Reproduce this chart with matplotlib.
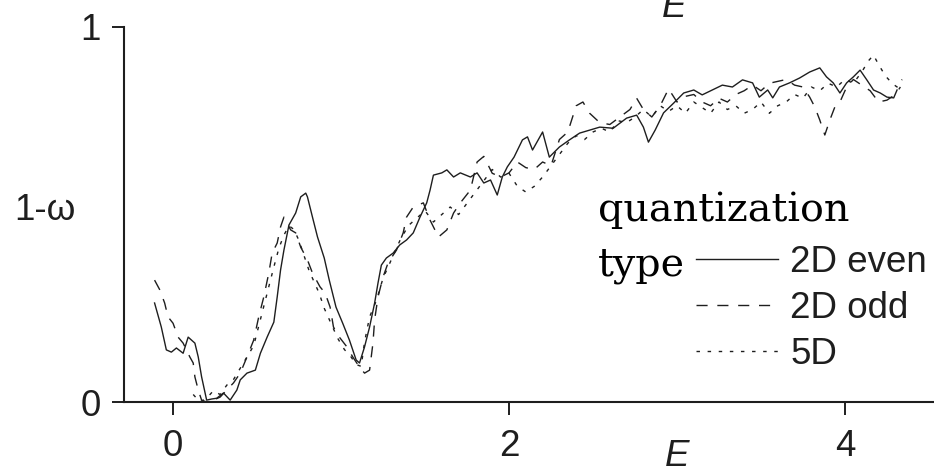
import numpy as np
import matplotlib.pyplot as plt

# energy values and 1-omega
e_even = [-0.11, -0.07, -0.04, -0.01, 0.02, 0.06, 0.09, 0.13, 0.15, 0.17,
          0.20, 0.23, 0.26, 0.30, 0.34, 0.38, 0.40, 0.44, 0.49, 0.52,
          0.56, 0.60, 0.62, 0.64, 0.66, 0.69, 0.73, 0.76, 0.79, 0.80,
          0.83, 0.86, 0.90, 0.93, 0.97, 1.01, 1.05, 1.09, 1.11, 1.14,
          1.17, 1.20, 1.22, 1.24, 1.27, 1.31, 1.35, 1.39, 1.43, 1.47,
          1.51, 1.53, 1.55, 1.60, 1.63, 1.67, 1.71, 1.77, 1.81, 1.85,
          1.89, 1.93, 1.96, 1.99, 2.03, 2.08, 2.11, 2.14, 2.20, 2.24,
          2.30, 2.36, 2.42, 2.48, 2.54, 2.62, 2.70, 2.76, 2.80, 2.83,
          2.87, 2.92, 2.98, 3.04, 3.10, 3.15, 3.21, 3.27, 3.33, 3.39,
          3.45, 3.49, 3.54, 3.57, 3.61, 3.67, 3.73, 3.79, 3.85, 3.89,
          3.93, 3.97, 4.01, 4.05, 4.09, 4.13, 4.17, 4.21, 4.25, 4.29,
          4.31]
w_even = [0.264, 0.20, 0.139, 0.133, 0.144, 0.13, 0.173, 0.157, 0.12, 0.067,
          0.005, 0.008, 0.01, 0.024, 0.005, 0.032, 0.059, 0.077, 0.085, 0.13,
          0.173, 0.213, 0.28, 0.352, 0.405, 0.472, 0.504, 0.547, 0.557, 0.547,
          0.493, 0.44, 0.384, 0.325, 0.253, 0.21, 0.165, 0.112, 0.104, 0.147,
          0.2, 0.264, 0.317, 0.365, 0.384, 0.397, 0.419, 0.432, 0.451, 0.493,
          0.531, 0.565, 0.605, 0.611, 0.619, 0.60, 0.611, 0.60, 0.611, 0.584,
          0.592, 0.552, 0.60, 0.627, 0.653, 0.699, 0.707, 0.672, 0.72, 0.653,
          0.68, 0.699, 0.717, 0.725, 0.733, 0.73, 0.757, 0.765, 0.733, 0.693,
          0.725, 0.771, 0.797, 0.824, 0.832, 0.819, 0.832, 0.845, 0.84, 0.859,
          0.851, 0.813, 0.832, 0.811, 0.84, 0.851, 0.864, 0.88, 0.891, 0.867,
          0.851, 0.824, 0.851, 0.867, 0.885, 0.859, 0.832, 0.824, 0.813, 0.811,
          0.832]

e_odd = [-0.11, -0.08, -0.05, -0.03, 0.00, 0.03, 0.06, 0.10, 0.12, 0.13,
         0.15, 0.17, 0.20, 0.24, 0.28, 0.32, 0.36, 0.40, 0.44, 0.48,
         0.51, 0.54, 0.57, 0.59, 0.62, 0.64, 0.66, 0.70, 0.73, 0.76,
         0.80, 0.83, 0.875, 0.905, 0.935, 0.955, 0.99, 1.035, 1.07, 1.11,
         1.14, 1.17, 1.19, 1.20, 1.22, 1.25, 1.28, 1.33, 1.37, 1.39,
         1.43, 1.49, 1.53, 1.58, 1.63, 1.67, 1.71, 1.77, 1.81, 1.85,
         1.90, 1.95, 2.00, 2.05, 2.10, 2.15, 2.20, 2.25, 2.30, 2.35,
         2.40, 2.44, 2.48, 2.54, 2.60, 2.66, 2.72, 2.76, 2.80, 2.85,
         2.90, 2.95, 3.00, 3.05, 3.10, 3.15, 3.20, 3.25, 3.30, 3.35,
         3.40, 3.45, 3.50, 3.55, 3.60, 3.65, 3.70, 3.75, 3.79, 3.82,
         3.85, 3.88, 3.91, 3.94, 3.97, 4.01, 4.05, 4.10, 4.15, 4.20,
         4.25, 4.30, 4.33]
w_odd = [0.325, 0.30, 0.264, 0.227, 0.21, 0.173, 0.157, 0.12, 0.104, 0.067,
         0.032, 0.005, 0.0, 0.005, 0.013, 0.032, 0.051, 0.077, 0.12, 0.165,
         0.227, 0.28, 0.344, 0.397, 0.424, 0.467, 0.493, 0.459, 0.451, 0.413,
         0.379, 0.344, 0.307, 0.291, 0.253, 0.20, 0.173, 0.147, 0.12, 0.093,
         0.077, 0.085, 0.157, 0.219, 0.28, 0.333, 0.371, 0.405, 0.451, 0.493,
         0.52, 0.531, 0.485, 0.44, 0.459, 0.504, 0.531, 0.565, 0.64, 0.655,
         0.61, 0.60, 0.611, 0.64, 0.625, 0.62, 0.64, 0.63, 0.70, 0.72,
         0.79, 0.80, 0.77, 0.745, 0.74, 0.76, 0.78, 0.81, 0.78, 0.76,
         0.79, 0.835, 0.80, 0.815, 0.82, 0.80, 0.79, 0.81, 0.80, 0.82,
         0.83, 0.845, 0.83, 0.85, 0.855, 0.86, 0.845, 0.84, 0.813, 0.787,
         0.752, 0.712, 0.752, 0.787, 0.80, 0.84, 0.86, 0.845, 0.83, 0.80,
         0.805, 0.82, 0.84]

e_5d = [0.12, 0.16, 0.20, 0.24, 0.28, 0.32, 0.36, 0.40, 0.44, 0.48,
        0.52, 0.56, 0.60, 0.63, 0.66, 0.69, 0.72, 0.75, 0.78, 0.81,
        0.84, 0.87, 0.90, 0.94, 0.98, 1.02, 1.06, 1.09, 1.12, 1.14,
        1.17, 1.21, 1.25, 1.30, 1.35, 1.40, 1.45, 1.50, 1.55, 1.60,
        1.65, 1.70, 1.75, 1.80, 1.85, 1.90, 1.95, 2.00, 2.05, 2.10,
        2.15, 2.20, 2.25, 2.30, 2.35, 2.40, 2.45, 2.50, 2.55, 2.60,
        2.65, 2.70, 2.75, 2.80, 2.85, 2.90, 2.95, 3.00, 3.05, 3.10,
        3.15, 3.20, 3.25, 3.30, 3.35, 3.40, 3.45, 3.50, 3.55, 3.60,
        3.65, 3.70, 3.75, 3.80, 3.85, 3.90, 3.95, 4.00, 4.05, 4.10,
        4.14, 4.17, 4.20, 4.24, 4.28, 4.31, 4.34]
w_5d = [0.02, 0.0, 0.01, 0.03, 0.02, 0.045, 0.06, 0.09, 0.12, 0.15,
        0.22, 0.29, 0.36, 0.41, 0.445, 0.47, 0.46, 0.43, 0.39, 0.35,
        0.32, 0.29, 0.25, 0.21, 0.17, 0.14, 0.12, 0.10, 0.095, 0.16,
        0.227, 0.27, 0.33, 0.38, 0.43, 0.47, 0.49, 0.51, 0.48, 0.50,
        0.52, 0.50, 0.53, 0.56, 0.59, 0.62, 0.60, 0.61, 0.575, 0.56,
        0.575, 0.60, 0.63, 0.66, 0.69, 0.71, 0.70, 0.72, 0.73, 0.72,
        0.75, 0.745, 0.76, 0.78, 0.76, 0.79, 0.775, 0.79, 0.77, 0.80,
        0.785, 0.77, 0.80, 0.78, 0.79, 0.77, 0.78, 0.80, 0.77, 0.79,
        0.80, 0.82, 0.81, 0.84, 0.83, 0.85, 0.84, 0.86, 0.85, 0.88,
        0.91, 0.925, 0.90, 0.87, 0.85, 0.84, 0.86]

labels = ['2D even', '2D odd', '5D']
x_ticks = [0, 2, 4]
y_ticks = [0, 1]

ink = '#1e1e1e'
fs = 26.5

plt.rcParams['font.family'] = ['Liberation Sans', 'DejaVu Sans']

fig = plt.figure(figsize=(9.34, 4.75), dpi=100)
ax = fig.add_axes([124 / 934, 1 - 402 / 475, 810 / 934, 375 / 475])

ax.plot(e_even, w_even, color=ink, lw=1.0, label=labels[0])
ax.plot(e_odd, w_odd, color=ink, lw=1.0, dashes=(8, 7), label=labels[1])
ax.plot(e_5d, w_5d, color=ink, lw=1.0, dashes=(2.5, 5.5), label=labels[2])

ax.set_xlim(-0.292, 4.53)
ax.set_ylim(0, 1)
ax.set_xticks(x_ticks)
ax.set_yticks(y_ticks)
ax.spines['top'].set_visible(False)
ax.spines['right'].set_visible(False)
for s in ['left', 'bottom']:
    ax.spines[s].set_linewidth(1.5)
    ax.spines[s].set_color(ink)
ax.tick_params(axis='both', direction='out', width=1.4, color=ink,
               labelsize=fs, labelcolor=ink)
ax.tick_params(axis='x', length=9.4, pad=10)
ax.tick_params(axis='y', length=8.6, pad=8)

ax.set_ylabel('1-\u03c9', fontsize=fs, color=ink, rotation=0,
              ha='center', va='center')
ax.yaxis.set_label_coords(-0.0975, 0.512)

ax.set_xlabel('E', fontsize=fs, color=ink, style='italic')
ax.xaxis.label.set_va('baseline')
ax.xaxis.set_label_coords(3 / 4.822 + 0.292 / 4.822, -0.172)

# cut-off label at the top edge
fig.text(674 / 934, 1 - 17 / 475, 'E', fontsize=fs, color=ink,
         style='italic', ha='center', va='baseline')

# legend with its title set to the left
fig.text(598 / 934, 1 - 221 / 475, 'quantization', fontsize=28.5,
         family='DejaVu Serif', color='black', va='baseline')
fig.text(598 / 934, 1 - 276 / 475, 'type', fontsize=28.5,
         family='DejaVu Serif', color='black', va='baseline')

ax.legend(loc='upper left', bbox_to_anchor=(696 / 934, 1 - 245 / 475),
          bbox_transform=fig.transFigure, frameon=False, fontsize=fs,
          borderpad=0, borderaxespad=0, handlelength=2.24,
          handletextpad=0.32, labelspacing=0.3, labelcolor=ink)

fig.savefig('out.png', dpi=100)
